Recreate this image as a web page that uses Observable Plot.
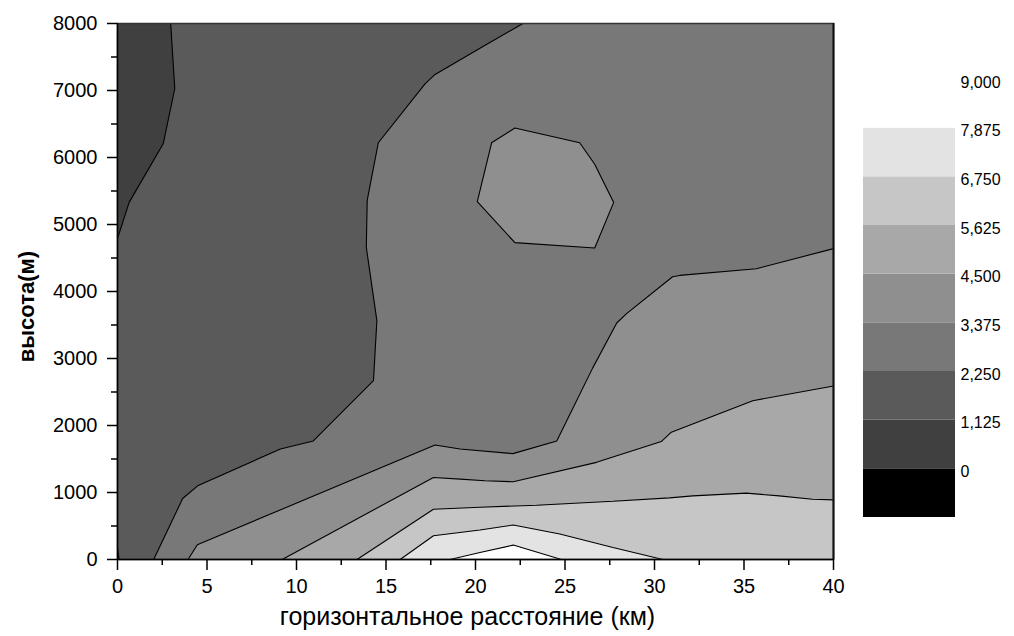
<!DOCTYPE html>
<html><head><meta charset="utf-8">
<script src="https://cdn.jsdelivr.net/npm/d3@7"></script>
<script src="https://cdn.jsdelivr.net/npm/@observablehq/plot@0.6"></script>
<style>
body{margin:0;background:#fff;}
#wrap{position:relative;width:1014px;height:636px;font-family:"Liberation Sans",Arial,sans-serif;}
#main{position:absolute;left:0;top:0;}
#legend{position:absolute;left:850px;top:0;}
</style></head><body><div id="wrap"><div id="main"></div><div id="legend"></div></div>
<script>
// axes
const xDomain = [0, 40];
const yDomain = [0, 8000];
const xTicks = [0, 5, 10, 15, 20, 25, 30, 35, 40];
const xMinorTicks = [2.5, 7.5, 12.5, 17.5, 22.5, 27.5, 32.5, 37.5];
const yTicks = [0, 1000, 2000, 3000, 4000, 5000, 6000, 7000, 8000];
const yMinorTicks = [500, 1500, 2500, 3500, 4500, 5500, 6500, 7500];
const xTitle = "горизонтальное расстояние (км)";
const yTitle = "высота(м)";

// colour levels
const levels = [-1125, 0, 1125, 2250, 3375, 4500, 5625, 6750, 7875, 9000];
const levelColors = ["#000000", "#404040", "#5a5a5a", "#787878", "#8f8f8f", "#a8a8a8", "#c6c6c6", "#e3e3e3", "#ffffff"];
const legendLabels = [0, 1125, 2250, 3375, 4500, 5625, 6750, 7875, 9000];

// contour lines: [км, м]
const contour1125 = [[2.97,8000],[3.2,7030],[2.56,6210],[0.65,5330],[0,4790]];
const contour1125origin = [[0,180],[0.09,0]];
const contour2250 = [[22.65,8000],[20.25,7630],[17.74,7240],[17.18,7100],[14.57,6220],[13.95,5360],[13.9,4660],[14.49,3565],[14.3,2670],[10.94,1770],[9.1,1650],[4.48,1100],[3.64,910],[2.02,0]];
const contour3375 = [[3.94,0],[4.46,220],[17.74,1710],[19.14,1650],[22.09,1580],[24.54,1770],[26.55,2860],[27.89,3530],[28.44,3670],[31.01,4220],[31.4,4240],[35.69,4340],[40,4640]];
const contour3375island = [[22.2,6440],[25.82,6220],[26.66,5900],[27.72,5330],[26.66,4650],[22.2,4730],[20.1,5340],[20.9,6220]];
const contour4500 = [[9.2,0],[17.65,1225],[19.14,1200],[20.53,1175],[22.11,1160],[26.76,1450],[30.38,1760],[30.94,1900],[35.49,2370],[40,2590]];
const contour5625 = [[13.38,0],[17.65,750],[20.25,780],[23.41,810],[27.68,870],[30.84,920],[32.14,950],[35.12,990],[36.97,950],[38.83,900],[40,890]];
const contour6750 = [[15.79,0],[17.65,355],[20.25,440],[22.11,515],[24.71,380],[27.68,180],[30.47,0]];
const contour7875 = [[18.58,0],[20.25,105],[22.11,215],[24.8,0]];

const [x0, x1] = xDomain, [y0, y1] = yDomain;
const regions = [
  {pts: [...contour1125, [x0, y1]], color: levelColors[1]},
  {pts: [...contour1125origin, [x0, y0]], color: levelColors[1]},
  {pts: [...contour2250, [x1, y0], [x1, y1]], color: levelColors[3]},
  {pts: [...contour3375, [x1, y0]], color: levelColors[4]},
  {pts: contour3375island, color: levelColors[4]},
  {pts: [...contour4500, [x1, y0]], color: levelColors[5]},
  {pts: [...contour5625, [x1, y0]], color: levelColors[6]},
  {pts: contour6750, color: levelColors[7]},
  {pts: contour7875, color: levelColors[8]}
];
const lines = [contour1125, contour1125origin, contour2250, contour3375,
  [...contour3375island, contour3375island[0]], contour4500, contour5625, contour6750, contour7875];

const px = d => d[0], py = d => d[1];

const main = Plot.plot({
  width: 850, height: 636,
  marginLeft: 117, marginRight: 17, marginTop: 23, marginBottom: 77,
  x: {domain: xDomain},
  y: {domain: yDomain},
  style: {fontFamily: '"Liberation Sans", Arial, sans-serif', fontSize: "20px", color: "#000", background: "#fff"},
  marks: [
    Plot.frame({fill: levelColors[2], stroke: null}),
    ...regions.map(r => Plot.line(r.pts, {x: px, y: py, fill: r.color, stroke: "none"})),
    ...lines.map(l => Plot.line(l, {x: px, y: py, stroke: "#000", strokeWidth: 1.1, strokeLinejoin: "miter"})),
    Plot.frame({stroke: "#333", strokeWidth: 1.5}),
    Plot.ruleX([x1], {stroke: "#111", strokeWidth: 2}),
    Plot.ruleX([x0], {stroke: "#000", strokeWidth: 1.5}),
    Plot.ruleY([y0], {stroke: "#000", strokeWidth: 1.5}),
    Plot.axisX(xTicks, {tickSize: 11, tickPadding: 8, strokeWidth: 1.5, fontSize: 20, label: null}),
    Plot.axisX(xMinorTicks, {tickSize: 6, strokeWidth: 1.5, tickFormat: () => "", label: null}),
    Plot.axisY(yTicks, {tickSize: 10, tickPadding: 10, strokeWidth: 1.5, fontSize: 20, tickFormat: d => String(d), label: null}),
    Plot.axisY(yMinorTicks, {tickSize: 6, strokeWidth: 1.5, tickFormat: () => "", label: null}),
    Plot.text([xTitle], {frameAnchor: "bottom", dy: 65, dx: -8, fontSize: 25, fill: "#000"}),
    Plot.text([yTitle], {frameAnchor: "left", textAnchor: "middle", dx: -91, dy: 15, rotate: -90, fontSize: 22, fontWeight: "bold", fill: "#000"})
  ]
});
document.getElementById("main").appendChild(main);

const bands = levelColors.map((c, i) => ({lo: levels[i], hi: levels[i + 1], color: c}));
const legend = Plot.plot({
  width: 164, height: 636,
  marginLeft: 13, marginRight: 59, marginTop: 79, marginBottom: 119,
  x: {domain: [0, 1], axis: null},
  y: {domain: [levels[0], levels[levels.length - 1]]},
  color: {type: "identity"},
  style: {fontFamily: '"Liberation Sans", Arial, sans-serif', fontSize: "16px", color: "#000", background: "#fff"},
  marks: [
    Plot.rect(bands, {x1: 0, x2: 1, y1: "lo", y2: "hi", fill: "color"}),
    Plot.axisY(legendLabels, {anchor: "right", tickSize: 0, tickPadding: 5, dy: 3, fontSize: 16, tickFormat: d3.format(","), label: null})
  ]
});
document.getElementById("legend").appendChild(legend);
</script>
</body></html>
